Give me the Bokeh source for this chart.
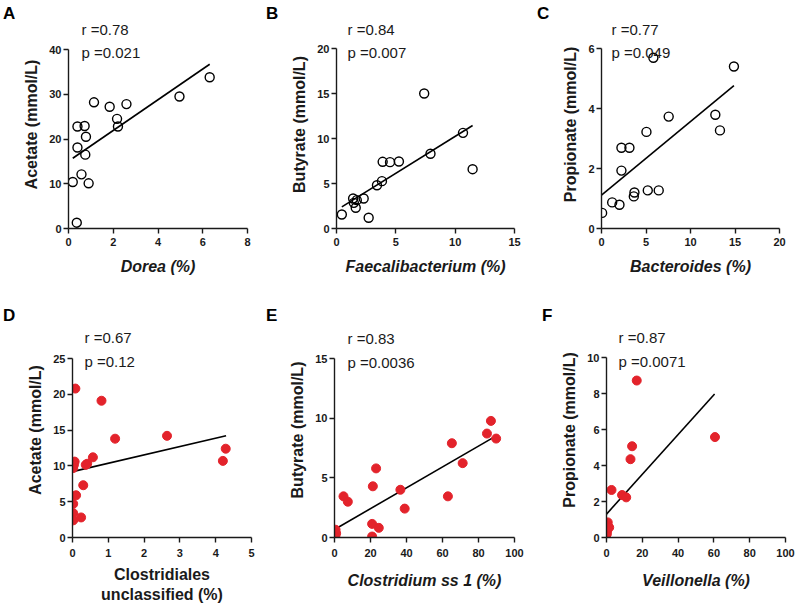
from bokeh.plotting import figure
from bokeh.models import Range1d, Label, FixedTicker, Div
from bokeh.layouts import row, column
from bokeh.embed import file_html
from bokeh.resources import INLINE

# ---------------- data ----------------
# A: Dorea vs Acetate
a_x = [0.19, 0.40, 0.40, 0.37, 0.58, 0.72, 0.78, 0.75, 0.90, 1.14, 1.84, 2.17, 2.21, 2.59, 4.96, 6.31]
a_y = [10.4, 18.1, 22.8, 1.3, 12.1, 22.9, 20.5, 16.5, 10.1, 28.2, 27.2, 24.5, 22.8, 27.8, 29.5, 33.8]
a_fit_x = [0.19, 6.31]
a_fit_y = [15.7, 36.7]

# B: Faecalibacterium vs Butyrate
b_x = [0.45, 1.40, 1.46, 1.62, 1.71, 2.29, 2.71, 3.41, 3.83, 3.89, 4.51, 5.26, 7.39, 7.92, 10.66, 11.47]
b_y = [1.56, 3.33, 2.85, 2.30, 3.15, 3.33, 1.19, 4.81, 5.26, 7.41, 7.37, 7.44, 15.0, 8.30, 10.63, 6.59]
b_fit_x = [0.45, 11.47]
b_fit_y = [2.41, 11.44]

# C: Bacteroides vs Propionate
c_x = [0.07, 1.20, 2.02, 2.24, 2.24, 3.14, 3.63, 3.70, 5.05, 5.20, 6.43, 5.83, 7.55, 12.79, 13.31, 14.88]
c_y = [0.52, 0.87, 0.79, 1.93, 2.69, 2.69, 1.07, 1.20, 3.22, 1.27, 1.27, 5.69, 3.73, 3.79, 3.27, 5.40]
c_fit_x = [0.0, 14.88]
c_fit_y = [1.11, 4.76]

# D: Clostridiales unclassified vs Acetate
d_x = [0.08, 0.81, 1.19, 2.64, 4.20, 4.28, 0.06, 0.04, 0.02, 0.41, 0.37, 0.57, 0.30, 0.10, 0.02, 0.02, 0.02, 0.24]
d_y = [20.8, 19.1, 13.8, 14.2, 10.7, 12.4, 10.6, 10.15, 9.7, 10.3, 10.15, 11.2, 7.3, 5.9, 4.7, 3.4, 2.4, 2.8]
d_fit_x = [0.0, 4.29]
d_fit_y = [9.2, 14.2]

# E: Clostridium ss 1 vs Butyrate
e_x = [0.6, 0.9, 0.5, 5.0, 7.4, 21.3, 23.1, 20.9, 20.9, 24.6, 36.6, 39.0, 63.0, 65.2, 71.2, 84.7, 86.9, 89.8]
e_y = [0.65, 0.35, 0.05, 3.45, 3.0, 4.29, 5.79, 1.14, 0.08, 0.81, 4.0, 2.42, 3.45, 7.90, 6.23, 8.71, 9.77, 8.29]
e_fit_x = [0.0, 89.8]
e_fit_y = [0.67, 8.52]

# F: Veillonella vs Propionate
f_x = [16.9, 60.6, 14.3, 13.4, 2.8, 8.7, 11.0, 0.7, 0.9, 0.4, 0.2, 1.5]
f_y = [8.72, 5.58, 5.07, 4.35, 2.64, 2.36, 2.23, 0.84, 0.6, 0.37, 0.19, 0.56]
f_fit_x = [0.0, 60.4]
f_fit_y = [1.30, 7.97]

letters_top = ["A", "B", "C"]
letters_bottom = ["D", "E", "F"]
r_texts = ["r =0.78", "r =0.84", "r =0.77", "r =0.67", "r =0.83", "r =0.87"]
p_texts = ["p =0.021", "p =0.007", "p =0.049", "p =0.12", "p =0.0036", "p =0.0071"]
x_labels = ["Dorea (%)", "Faecalibacterium (%)", "Bacteroides (%)",
            "Clostridiales\nunclassified (%)", "Clostridium ss 1 (%)", "Veillonella (%)"]
y_labels = ["Acetate (mmol/L)", "Butyrate (mmol/L)", "Propionate (mmol/L)",
            "Acetate (mmol/L)", "Butyrate (mmol/L)", "Propionate (mmol/L)"]
x_max = [8, 15, 20, 5, 100, 100]
y_max = [40, 20, 6, 25, 15, 10]
x_ticks = [[0, 2, 4, 6, 8], [0, 5, 10, 15], [0, 5, 10, 15, 20],
           [0, 1, 2, 3, 4, 5], [0, 20, 40, 60, 80, 100], [0, 20, 40, 60, 80, 100]]
y_ticks = [[0, 10, 20, 30, 40], [0, 5, 10, 15, 20], [0, 2, 4, 6],
           [0, 5, 10, 15, 20, 25], [0, 5, 10, 15], [0, 2, 4, 6, 8, 10]]
xs = [a_x, b_x, c_x, d_x, e_x, f_x]
ys = [a_y, b_y, c_y, d_y, e_y, f_y]
fxs = [a_fit_x, b_fit_x, c_fit_x, d_fit_x, e_fit_x, f_fit_x]
fys = [a_fit_y, b_fit_y, c_fit_y, d_fit_y, e_fit_y, f_fit_y]
x_italic = [True, True, True, False, True, True]
filled = [False, False, False, True, True, True]

# ---------------- layout (page pixel geometry) ----------------
# figure origin (ox, oy), width, height ; axes box (left, top-of-y-axis, right, bottom)
geom = [
    ((0, 20), 265, 278, (68, 49, 247, 228)),
    ((265, 20), 265, 278, (336, 48, 514, 228)),
    ((530, 20), 270, 278, (601, 48, 779, 228)),
    ((0, 322), 265, 293, (72, 358, 251, 537)),
    ((265, 322), 265, 293, (334, 358, 514, 537)),
    ((530, 322), 270, 293, (606, 357, 785, 537)),
]
r_pos = [(81, 29, 52), (347, 29, 52), (611, 29, 52), (84, 337, 361), (347, 338, 362), (618, 337, 361)]

FONT = "Liberation Sans"
RED = "#e3232b"

figs = []
for i in range(6):
    (ox, oy), w, h, (fl, ft, fr, fb) = geom[i]
    sy = (fb - ft) / y_max[i]
    y_end = y_max[i] + (ft - oy) / sy
    p = figure(width=w, height=h, output_backend="svg", toolbar_location=None,
               x_range=Range1d(0, x_max[i]), y_range=Range1d(0, y_end),
               min_border_left=fl - ox, min_border_right=ox + w - fr,
               min_border_top=0, min_border_bottom=oy + h - fb)
    p.outline_line_color = None
    p.grid.visible = False

    for ax in (p.xaxis[0], p.yaxis[0]):
        ax.axis_line_width = 1.4
        ax.axis_line_color = "#1a1a1a"
        ax.major_tick_line_width = 1.4
        ax.major_tick_line_color = "#1a1a1a"
        ax.major_tick_out = 5
        ax.major_tick_in = 0
        ax.minor_tick_out = 0
        ax.minor_tick_in = 0
        ax.major_label_text_font = FONT
        ax.major_label_text_font_style = "bold"
        ax.major_label_text_font_size = "11px"
        ax.major_label_text_color = "#1a1a1a"
        ax.axis_label_text_font = FONT
        ax.axis_label_text_font_size = "16px"
        ax.axis_label_text_color = "#1a1a1a"
    p.yaxis[0].bounds = (0, y_max[i])
    p.xaxis[0].ticker = FixedTicker(ticks=x_ticks[i])
    p.yaxis[0].ticker = FixedTicker(ticks=y_ticks[i])
    p.xaxis[0].axis_label = x_labels[i]
    p.yaxis[0].axis_label = y_labels[i]
    p.xaxis[0].axis_label_text_font_style = "bold italic" if x_italic[i] else "bold"
    p.yaxis[0].axis_label_text_font_style = "bold"
    p.xaxis[0].major_label_standoff = 4 if i < 3 else 6
    p.yaxis[0].major_label_standoff = 2
    p.xaxis[0].axis_label_standoff = 9 if i < 3 else (6 if i == 3 else 12)
    p.yaxis[0].axis_label_standoff = 6

    p.line(fxs[i], fys[i], line_color="black", line_width=1.6)
    if filled[i]:
        p.scatter(xs[i], ys[i], size=9, fill_color=RED, line_color=RED, line_width=1)
    else:
        p.scatter(xs[i], ys[i], size=9, fill_color=None, line_color="black", line_width=1.4)

    rx, ry, py = r_pos[i]
    for txt, yy in ((r_texts[i], ry), (p_texts[i], py)):
        p.add_layout(Label(x=rx - fl, y=fb - yy, x_units="screen", y_units="screen",
                           text=txt, text_font=FONT, text_font_size="15px",
                           text_color="#1a1a1a",
                           text_baseline="alphabetic", text_align="left"))
    figs.append(p)


def letter_div(labels, widths, pad_top, height):
    spans = "".join(
        '<span style="display:inline-block;width:%dpx">%s</span>' % (wd, t)
        for t, wd in zip(labels, widths))
    return Div(text=spans, width=800, height=height, margin=0,
               styles={"font-family": FONT, "font-weight": "bold",
                       "font-size": "17px", "line-height": "12px",
                       "color": "black", "padding-top": "%dpx" % pad_top,
                       "padding-left": "3px", "white-space": "nowrap"})


top_letters = letter_div(letters_top, [263, 271, 40], 8, 20)
bottom_letters = letter_div(letters_bottom, [263, 276, 40], 12, 24)

layout = column(top_letters, row(figs[0], figs[1], figs[2]),
                bottom_letters, row(figs[3], figs[4], figs[5]), spacing=0)

with open("out.html", "w") as fh:
    fh.write(file_html(layout, INLINE, title="Correlations"))
